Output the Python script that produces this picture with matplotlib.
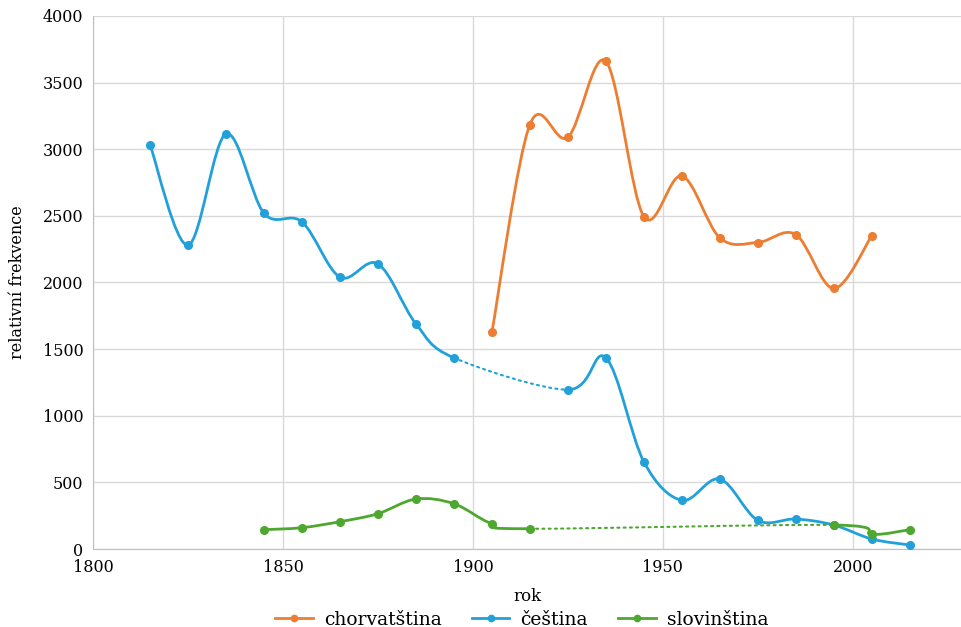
#!/usr/bin/env python3
# -*- coding: utf-8 -*-
import numpy as np
import matplotlib
matplotlib.use('Agg')
import matplotlib.pyplot as plt
from matplotlib.path import Path
from matplotlib.patches import PathPatch
from matplotlib.lines import Line2D

plt.rcParams['font.family'] = ['DejaVu Serif']

years = [1815, 1825, 1835, 1845, 1855, 1865, 1875, 1885, 1895, 1905,
         1915, 1925, 1935, 1945, 1955, 1965, 1975, 1985, 1995, 2005, 2015]
nan = np.nan
chorvatstina = [nan, nan, nan, nan, nan, nan, nan, nan, nan, 1625,
                3185, 3090, 3660, 2495, 2800, 2335, 2300, 2360, 1955, 2350, nan]
cestina = [3035, 2280, 3115, 2520, 2455, 2040, 2140, 1690, 1435, nan,
           nan, 1195, 1435, 655, 365, 525, 215, 225, 180, 75, 30]
slovinstina = [nan, nan, nan, 145, 160, 205, 265, 375, 340, 190,
               152, nan, nan, nan, nan, nan, nan, nan, 180, 110, 145]

series = [('chorvatština', chorvatstina, '#ED7D31'),
          ('čeština', cestina, '#22A0DA'),
          ('slovinština', slovinstina, '#4EA72E')]


def smooth_segments(x, y):
    # Catmull-Rom style bezier through the valid points (Excel smoothing)
    x = np.asarray(x, dtype=float)
    y = np.asarray(y, dtype=float)
    idx = np.where(~np.isnan(y))[0]
    px, py = x[idx], y[idx]
    n = len(px)
    segs = []
    for i in range(n - 1):
        p0 = (px[max(i - 1, 0)], py[max(i - 1, 0)])
        p1 = (px[i], py[i])
        p2 = (px[i + 1], py[i + 1])
        p3 = (px[min(i + 2, n - 1)], py[min(i + 2, n - 1)])
        c1 = (p1[0] + (p2[0] - p0[0]) / 6, p1[1] + (p2[1] - p0[1]) / 6)
        c2 = (p2[0] - (p3[0] - p1[0]) / 6, p2[1] - (p3[1] - p1[1]) / 6)
        gap = idx[i + 1] - idx[i] > 1
        segs.append(([p1, c1, c2, p2], gap))
    return segs


fig = plt.figure(figsize=(9.61, 6.27), dpi=100)
ax = fig.add_axes([0.0968, 0.1244, 0.9032, 0.8501])

handles = []
for name, vals, col in series:
    for pts, gap in smooth_segments(years, vals):
        path = Path(pts, [Path.MOVETO, Path.CURVE4, Path.CURVE4, Path.CURVE4])
        ax.add_patch(PathPatch(path, facecolor='none', edgecolor=col,
                               lw=1.5 if gap else 2.0,
                               linestyle=(0, (1, 2)) if gap else '-',
                               capstyle='round', zorder=3))
    ax.plot(years, vals, linestyle='none', marker='o', ms=5.5,
            color=col, zorder=4)
    handles.append(Line2D([], [], color=col, lw=2.0, marker='o', ms=4.5))

ax.set_xlim(1800, 2028.5)
ax.set_ylim(0, 4000)
ax.set_xticks(range(1800, 2001, 50))
ax.set_yticks(range(0, 4001, 500))
ax.grid(True, color='#d9d9d9', lw=1)
ax.set_axisbelow(True)
for s in ['top', 'right']:
    ax.spines[s].set_visible(False)
for s in ['left', 'bottom']:
    ax.spines[s].set_color('#bfbfbf')
ax.tick_params(length=0, labelsize=11.5, colors='black', pad=7)
ax.set_xlabel('rok', fontsize=12, labelpad=9)
ax.set_ylabel('relativní frekvence', fontsize=11.5, labelpad=12)

fig.legend(handles, [s[0] for s in series], loc='lower center',
           bbox_to_anchor=(0.543, -0.03), ncol=3, frameon=False,
           fontsize=13.5, handlelength=2.0, handletextpad=0.6,
           columnspacing=1.6)

fig.savefig('out.png', dpi=100)
